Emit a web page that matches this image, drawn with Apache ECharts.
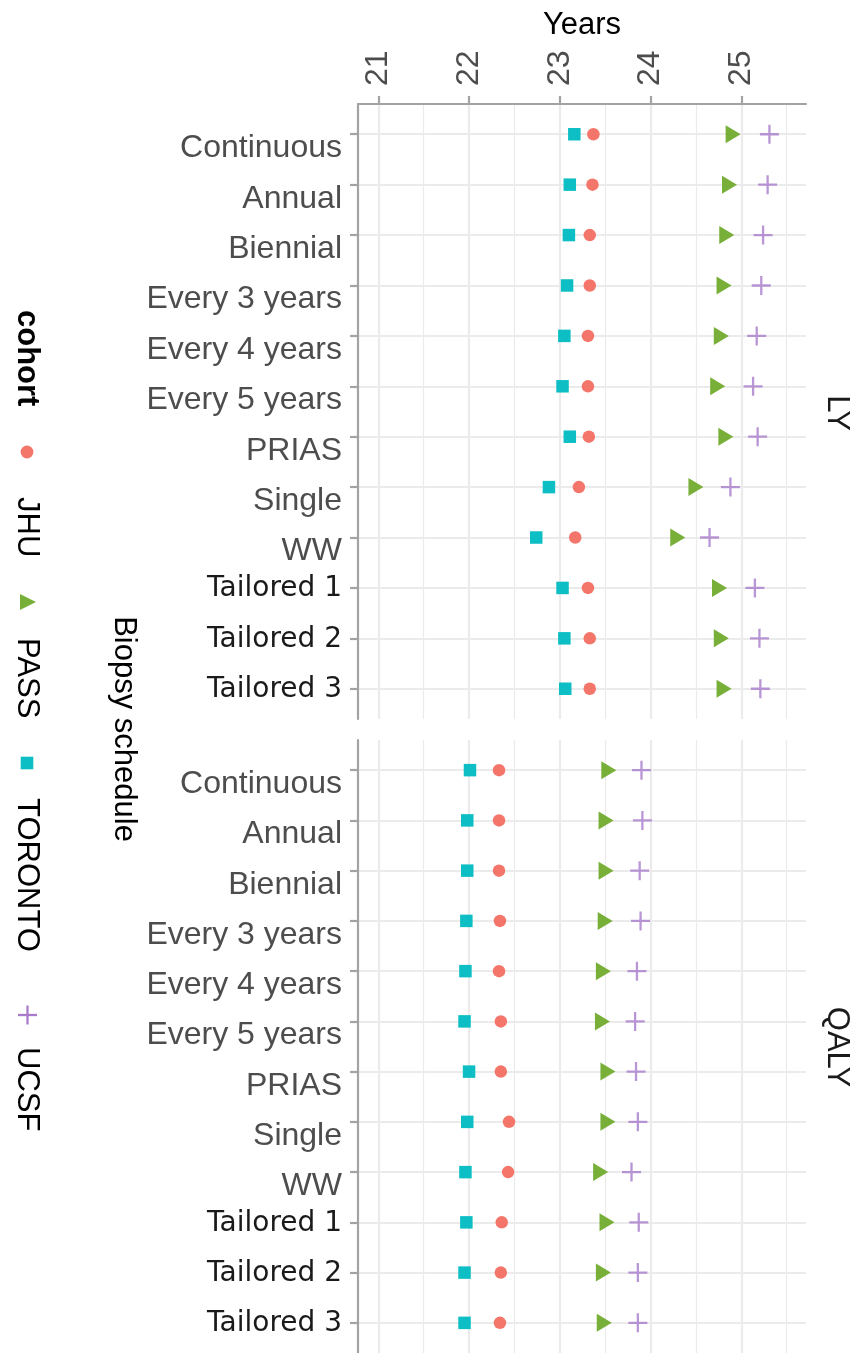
<!DOCTYPE html>
<html>
<head>
<meta charset="utf-8">
<script src="https://cdn.jsdelivr.net/npm/echarts@6/dist/echarts.min.js"></script>
<style>
  html, body { margin: 0; padding: 0; background: #fff; }
  #chart { width: 855px; height: 1353px; }
</style>
</head>
<body>
<div id="chart"></div>
<script>
// ---- data ----
const categories = ['Continuous', 'Annual', 'Biennial', 'Every 3 years', 'Every 4 years', 'Every 5 years', 'PRIAS', 'Single', 'WW', 'Tailored 1', 'Tailored 2', 'Tailored 3'];
const cohorts = ['JHU', 'PASS', 'TORONTO', 'UCSF'];
const facets = ['LY', 'QALY'];
const xTicks = [21, 22, 23, 24, 25];
const xMinorTicks = [21.5, 22.5, 23.5, 24.5, 25.5];

const lyJHU      = [23.37, 23.36, 23.33, 23.33, 23.31, 23.31, 23.32, 23.21, 23.17, 23.31, 23.33, 23.33];
const lyPASS     = [24.91, 24.87, 24.84, 24.81, 24.78, 24.74, 24.83, 24.50, 24.30, 24.76, 24.78, 24.81];
const lyTORONTO  = [23.16, 23.11, 23.10, 23.08, 23.05, 23.03, 23.11, 22.88, 22.74, 23.03, 23.05, 23.06];
const lyUCSF     = [25.31, 25.29, 25.24, 25.22, 25.17, 25.13, 25.18, 24.88, 24.65, 25.15, 25.20, 25.21];

const qalyJHU     = [22.33, 22.33, 22.33, 22.34, 22.33, 22.35, 22.35, 22.44, 22.43, 22.36, 22.35, 22.34];
const qalyPASS    = [23.54, 23.51, 23.51, 23.50, 23.48, 23.47, 23.53, 23.53, 23.45, 23.52, 23.48, 23.49];
const qalyTORONTO = [22.01, 21.98, 21.98, 21.97, 21.96, 21.95, 22.00, 21.98, 21.96, 21.97, 21.95, 21.95];
const qalyUCSF    = [23.90, 23.91, 23.88, 23.89, 23.85, 23.83, 23.84, 23.86, 23.79, 23.87, 23.86, 23.86];

// ---- styling ----
const FONT = '"Liberation Sans", Arial, Helvetica, sans-serif';
const colors = { JHU: '#F4766B', PASS: '#78AF38', TORONTO: '#0DBFC4', UCSF: '#A87CCB' };
const PLUS = 'path://M9,0L9,18M0,9L18,9';
const symbols = {
  JHU: { symbol: 'circle', symbolSize: 12.5, symbolRotate: 0 },
  PASS: { symbol: 'triangle', symbolSize: [18, 15], symbolRotate: -90 },
  TORONTO: { symbol: 'rect', symbolSize: 12.5, symbolRotate: 0 },
  UCSF: { symbol: PLUS, symbolSize: 19, symbolRotate: 0 }
};
const facetData = {
  LY: { JHU: lyJHU, PASS: lyPASS, TORONTO: lyTORONTO, UCSF: lyUCSF },
  QALY: { JHU: qalyJHU, PASS: qalyPASS, TORONTO: qalyTORONTO, UCSF: qalyUCSF }
};

const xMin = 20.776, xMax = 25.713;
const gridTops = [104, 740];
const gridH = 615;
const AXIS_GRAY = '#a3a3a3';
const GRID_GRAY = '#ebebeb';

const rowIdx = categories.map((c, i) => i);
const labelPos = categories.map((c, i) => i + (c.indexOf('Tailored') === 0 ? 0.02 : 0.28));

const grids = gridTops.map(t => ({ left: 358, width: 448, top: t, height: gridH, containLabel: false }));

const xAxes = [];
facets.forEach((f, gi) => {
  xAxes.push({
    type: 'value', gridIndex: gi, position: 'top', min: xMin, max: xMax,
    name: gi === 0 ? 'Years' : '', nameLocation: 'middle', nameGap: 63,
    nameTextStyle: { fontFamily: FONT, fontSize: 31, color: '#000' },
    axisLine: { show: gi === 0, onZero: false, lineStyle: { color: AXIS_GRAY, width: 2.2 } },
    axisTick: { show: gi === 0, length: 8, customValues: xTicks, lineStyle: { color: AXIS_GRAY, width: 2.2 } },
    axisLabel: { show: gi === 0, customValues: xTicks, rotate: -90, margin: 18, fontFamily: FONT, fontSize: 32, color: '#4d4d4d' },
    splitLine: { show: true, lineStyle: { color: GRID_GRAY, width: 2.2 } },
    z: 1
  });
  xAxes.push({
    type: 'value', gridIndex: gi, position: 'top', min: xMin, max: xMax,
    axisLine: { show: false }, axisLabel: { show: false },
    axisTick: { show: false, customValues: xMinorTicks },
    splitLine: { show: true, lineStyle: { color: GRID_GRAY, width: 1.2 } },
    z: 0
  });
});

const yAxes = facets.map((f, gi) => ({
  type: 'value', gridIndex: gi, inverse: true, min: -0.6, max: 11.6,
  axisLine: { show: true, onZero: false, lineStyle: { color: AXIS_GRAY, width: 2.2 } },
  axisTick: { show: true, length: 8, customValues: rowIdx, lineStyle: { color: AXIS_GRAY, width: 2.2 } },
  axisLabel: {
    show: true, customValues: labelPos, margin: 16,
    formatter: v => {
      const c = categories[Math.round(v)];
      return c.indexOf('Tailored') === 0 ? '{t|' + c + '}' : '{g|' + c + '}';
    },
    rich: {
      g: { fontFamily: FONT, fontSize: 32, color: '#4d4d4d' },
      t: { fontFamily: '"DejaVu Sans", sans-serif', fontSize: 28, color: '#1a1a1a' }
    }
  },
  splitLine: { show: true, lineStyle: { color: GRID_GRAY, width: 2.2 } }
}));

const series = [];
facets.forEach((f, gi) => {
  cohorts.forEach(c => {
    const s = symbols[c];
    const isPlus = c === 'UCSF';
    series.push({
      name: c, type: 'scatter', xAxisIndex: gi * 2, yAxisIndex: gi,
      symbol: s.symbol, symbolSize: s.symbolSize, symbolRotate: s.symbolRotate,
      itemStyle: isPlus ? { color: 'none', borderColor: colors[c], borderWidth: 2.3 } : { color: colors[c], opacity: 1 },
      emphasis: { disabled: true },
      data: facetData[f][c].map((v, i) => [v, i]),
      z: 5
    });
  });
});

// legend & rotated titles as graphic text
const rotText = (text, x, y, opts) => Object.assign({
  type: 'text', x: x, y: y, rotation: -Math.PI / 2, silent: true,
  style: Object.assign({ text: text, fontFamily: FONT, fontSize: 31, fill: '#000', align: 'left', verticalAlign: 'middle' }, opts || {})
});
const graphic = [
  rotText('cohort', 27, 310, { fontWeight: 'bold' }),
  { type: 'circle', shape: { cx: 27, cy: 452, r: 6.4 }, style: { fill: colors.JHU }, silent: true },
  rotText('JHU', 27, 497),
  { type: 'polygon', shape: { points: [[20, 594], [36, 602], [20, 610]] }, style: { fill: colors.PASS }, silent: true },
  rotText('PASS', 27, 638),
  { type: 'rect', shape: { x: 20.7, y: 756.7, width: 12.6, height: 12.6 }, style: { fill: colors.TORONTO }, silent: true },
  rotText('TORONTO', 27, 798),
  { type: 'polyline', shape: { points: [[27.5, 1005.5], [27.5, 1024.5]] }, style: { stroke: colors.UCSF, lineWidth: 2.3 }, silent: true },
  { type: 'polyline', shape: { points: [[18, 1015], [37, 1015]] }, style: { stroke: colors.UCSF, lineWidth: 2.3 }, silent: true },
  rotText('UCSF', 27, 1047),
  rotText('Biopsy schedule', 124, 729, { align: 'center' }),
  rotText('LY', 837, 413, { align: 'center', fill: '#1a1a1a' }),
  rotText('QALY', 837, 1047, { align: 'center', fill: '#1a1a1a' })
];

const chart = echarts.init(document.getElementById('chart'), null, { renderer: 'canvas' });
chart.setOption({
  animation: false,
  backgroundColor: '#fff',
  grid: grids,
  xAxis: xAxes,
  yAxis: yAxes,
  series: series,
  graphic: graphic,
  tooltip: { show: false }
});
</script>
</body>
</html>
